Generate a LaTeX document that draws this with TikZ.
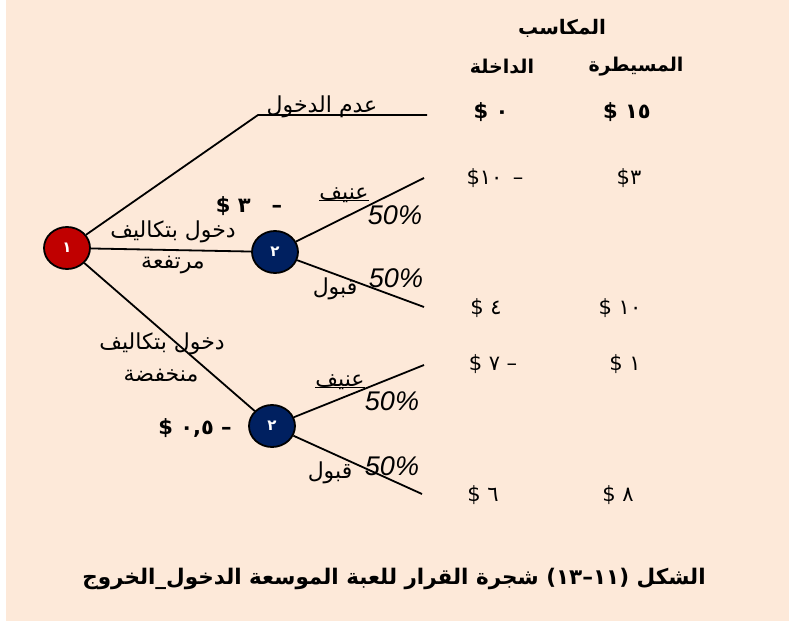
\documentclass[tikz,border=0pt]{standalone}
\usepackage{fontspec}
\usetikzlibrary{shapes.geometric}
\TeXXeTstate=1
\newfontfamily\arfont[Script=Arabic]{DejaVu Sans}
\newfontfamily\pctfont{Liberation Sans}
\definecolor{bgpeach}{HTML}{FDE9D9}
\definecolor{decred}{HTML}{C00000}
\definecolor{chanceblue}{HTML}{002060}
\begin{document}
\begin{tikzpicture}[x=1pt,y=-1pt,
  branch/.style={line width=1.8pt, draw=black},
  decnode/.style={ellipse, draw=black, line width=1.8pt, fill=decred, minimum width=46pt, minimum height=42pt, inner sep=0pt, text=white, font=\arfont\bfseries\fontsize{15}{15}\selectfont},
  chnode/.style={decnode, fill=chanceblue},
  lbl/.style={inner sep=0pt, font=\arfont\fontsize{22}{24}\selectfont},
  blbl/.style={inner sep=0pt, font=\arfont\bfseries\fontsize{19}{21}\selectfont},
  pay/.style={inner sep=0pt, font=\arfont\fontsize{21}{23}\selectfont},
  bpay/.style={inner sep=0pt, font=\arfont\bfseries\fontsize{21}{23}\selectfont},
  pct/.style={inner sep=0pt, font=\pctfont\itshape\fontsize{27}{28}\selectfont},
  uline/.style={line width=0.9pt, draw=black},
]
\fill[white] (0,0) rectangle (789,621);
\fill[bgpeach] (6,0) rectangle (789,621);
\useasboundingbox (0,0) rectangle (789,621);

% header
\node[blbl, font=\arfont\bfseries\fontsize{20}{22}\selectfont] (hdr) at (562,28) {\beginR المكاسب\endR};
\node[blbl] (hent) at (502,67) {\beginR الداخلة\endR};
\node[blbl] (hinc) at (636,67) {\beginR المسيطرة\endR};

% decision / chance nodes
\node[decnode] (n1) at (67,248) {\raisebox{-7pt}{١}};
\node[chnode] (n2a) at (275,252) {\raisebox{-7pt}{٢}};
\node[chnode] (n2b) at (272,426) {\raisebox{-7pt}{٢}};

% free ends
\coordinate (nt) at (258,115);
\coordinate (ntE) at (427,115);
\coordinate (ua) at (424,178);
\coordinate (la) at (424,307);
\coordinate (ub) at (424,365);
\coordinate (lb) at (422,494);

% branches
\draw[branch] (n1) -- (nt) -- (ntE);
\draw[branch] (n1) -- (n2a);
\draw[branch] (n1) -- (n2b);
\draw[branch] (n2a) -- (ua);
\draw[branch] (n2a) -- (la);
\draw[branch] (n2b) -- (ub);
\draw[branch] (n2b) -- (lb);

% no entry
\node[lbl, anchor=base] (noent) at (322,112) {\beginR عدم الدخول\endR};
\node[bpay] (p0e) at (491,112) {\beginR ٠ \$\endR};
\node[bpay] (p0i) at (627,112) {\beginR ١٥ \$\endR};

% high cost entry
\node[bpay] (cost1) at (249,206) {\beginR –\quad ٣ \$\endR};
\node[lbl] (hc1) at (173,232) {\beginR دخول بتكاليف\endR};
\node[lbl] (hc2) at (173,265) {\beginR مرتفعة\endR};
\node[lbl, anchor=base] (fa) at (344,199) {\beginR عنيف\endR};
\draw[uline] ([yshift=-1.5pt]fa.base west) -- ([yshift=-1.5pt]fa.base east);
\node[pct] (pfa) at (395,215) {50\%};
\node[pct] (paa) at (396,278) {50\%};
\node[lbl] (aa) at (335,289) {\beginR قبول\endR};
\node[pay] (pfae) at (495,178) {\beginR –\enspace\mbox{١٠}\mbox{\$}\endR};
\node[pay] (pfai) at (629,178) {\beginR\mbox{٣}\mbox{\$}\endR};
\node[pay] (paae) at (486,308) {\beginR ٤ \$\endR};
\node[pay] (paai) at (620,308) {\beginR ١٠ \$\endR};

% low cost entry
\node[lbl] (lc1) at (162,344) {\beginR دخول بتكاليف\endR};
\node[lbl] (lc2) at (161,376) {\beginR منخفضة\endR};
\node[bpay] (cost2) at (195,428) {\beginR – ٠,٥ \$\endR};
\node[lbl, anchor=base] (fb) at (340,386) {\beginR عنيف\endR};
\draw[uline] ([yshift=-1.5pt]fb.base west) -- ([yshift=-1.5pt]fb.base east);
\node[pct] (pfb) at (392,401) {50\%};
\node[pct] (pab) at (392,466) {50\%};
\node[lbl] (ab) at (330,473) {\beginR قبول\endR};
\node[pay] (pfbe) at (493,364) {\beginR – ٧ \$\endR};
\node[pay] (pfbi) at (625,364) {\beginR ١ \$\endR};
\node[pay] (pabe) at (483,495) {\beginR ٦ \$\endR};
\node[pay] (pabi) at (618,495) {\beginR ٨ \$\endR};

% caption
\node[blbl, font=\arfont\bfseries\fontsize{21.5}{23}\selectfont] (cap) at (394,579) {\beginR الشكل (١١–١٣) شجرة القرار للعبة الموسعة الدخول\_الخروج\endR};
\end{tikzpicture}
\end{document}
